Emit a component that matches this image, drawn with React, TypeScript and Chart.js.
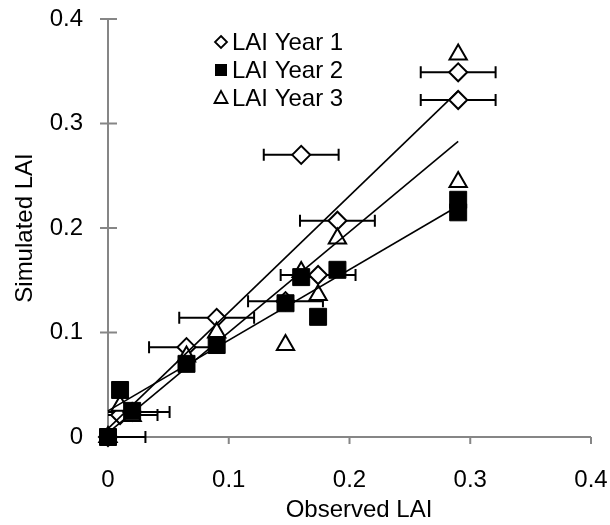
import React, { useEffect, useRef } from "react";
import { Chart, registerables } from "chart.js";

Chart.register(...registerables);

// Observed LAI (x) values shared by all three years
const observedX = [0, 0.01, 0.02, 0.065, 0.09, 0.147, 0.16, 0.174, 0.19, 0.29, 0.29];
// Simulated LAI per year
const year1Y = [0, 0.021, 0.024, 0.086, 0.114, 0.13, 0.27, 0.155, 0.207, 0.349, 0.3225];
const year2Y = [0, 0.045, 0.025, 0.07, 0.088, 0.128, 0.153, 0.115, 0.16, 0.227, 0.215];
const year3Y = [0, 0.03, 0.02, 0.077, 0.1, 0.088, 0.158, 0.136, 0.19, 0.366, 0.244];
// horizontal error (±) on Year 1 observations
const year1ErrX = [0.031, 0.031, 0.031, 0.031, 0.031, 0.031, 0.031, 0.031, 0.031, 0.031, 0.031];
// linear trend lines (endpoints)
const trendX = [0, 0.29];
const trend1Y = [0.008, 0.331];
const trend2Y = [0.025, 0.221];
const trend3Y = [0.004, 0.283];
// axis ticks
const tickValues = [0, 0.1, 0.2, 0.3, 0.4];
const seriesNames = ["LAI Year 1", "LAI Year 2", "LAI Year 3"];
const xTitle = "Observed LAI";
const yTitle = "Simulated LAI";

const FONT = "'Liberation Sans', Arial, sans-serif";
const AXIS_COLOR = "#868686";

const pts = (xs: number[], ys: number[]) => xs.map((x, i) => ({ x, y: ys[i] }));

const axesPlugin = {
  id: "customAxes",
  beforeDatasetsDraw(chart: any) {
    const { ctx, chartArea, scales } = chart;
    const xs = scales.x;
    const ys = scales.y;
    ctx.save();
    ctx.strokeStyle = AXIS_COLOR;
    ctx.lineWidth = 2;
    ctx.beginPath();
    ctx.moveTo(chartArea.left, chartArea.top);
    ctx.lineTo(chartArea.left, chartArea.bottom);
    ctx.lineTo(chartArea.right, chartArea.bottom);
    ctx.stroke();
    ctx.beginPath();
    tickValues.forEach((v) => {
      const px = xs.getPixelForValue(v);
      ctx.moveTo(px, chartArea.bottom);
      ctx.lineTo(px, chartArea.bottom + 7);
      const py = ys.getPixelForValue(v);
      ctx.moveTo(chartArea.left - 8, py);
      ctx.lineTo(chartArea.left + 9, py);
    });
    ctx.stroke();
    ctx.restore();

    // x axis title
    ctx.save();
    ctx.font = `24px ${FONT}`;
    ctx.fillStyle = "#000";
    ctx.textAlign = "center";
    ctx.textBaseline = "middle";
    ctx.fillText(xTitle, 359, 510);
    ctx.restore();

    // error bars for Year 1 (drawn under the markers)
    ctx.save();
    ctx.beginPath();
    ctx.rect(chartArea.left, chartArea.top - 10, chartArea.right - chartArea.left, chartArea.bottom - chartArea.top + 20);
    ctx.clip();
    ctx.strokeStyle = "#000";
    ctx.lineWidth = 2;
    ctx.beginPath();
    observedX.forEach((x, i) => {
      const e = year1ErrX[i];
      const x0 = xs.getPixelForValue(x - e);
      const x1 = xs.getPixelForValue(x + e);
      const py = ys.getPixelForValue(year1Y[i]);
      ctx.moveTo(x0, py);
      ctx.lineTo(x1, py);
      ctx.moveTo(x0, py - 6);
      ctx.lineTo(x0, py + 6);
      ctx.moveTo(x1, py - 6);
      ctx.lineTo(x1, py + 6);
    });
    ctx.stroke();
    ctx.restore();
  },
  afterDraw(chart: any) {
    const { ctx } = chart;
    ctx.save();
    const mx = 221;
    const tx = 232;
    const rows = [42, 70, 98];
    ctx.font = `24px ${FONT}`;
    ctx.fillStyle = "#000";
    ctx.textBaseline = "middle";
    ctx.textAlign = "left";
    seriesNames.forEach((n, i) => ctx.fillText(n, tx, rows[i] + 1));
    ctx.strokeStyle = "#000";
    ctx.lineWidth = 1.8;
    // diamond
    let y = rows[0];
    ctx.beginPath();
    ctx.moveTo(mx, y - 6);
    ctx.lineTo(mx + 6, y);
    ctx.lineTo(mx, y + 6);
    ctx.lineTo(mx - 6, y);
    ctx.closePath();
    ctx.fillStyle = "#fff";
    ctx.fill();
    ctx.stroke();
    // square
    y = rows[1];
    ctx.fillStyle = "#000";
    ctx.fillRect(mx - 6, y - 6, 12, 12);
    // triangle
    y = rows[2];
    ctx.beginPath();
    ctx.moveTo(mx, y - 7);
    ctx.lineTo(mx + 6.5, y + 5);
    ctx.lineTo(mx - 6.5, y + 5);
    ctx.closePath();
    ctx.fillStyle = "#fff";
    ctx.fill();
    ctx.stroke();
    ctx.restore();
  },
};

export default function App() {
  const ref = useRef<HTMLCanvasElement | null>(null);
  useEffect(() => {
    if (!ref.current) return;
    const trendStyle = {
      showLine: true,
      borderColor: "#000",
      borderWidth: 1.6,
      pointRadius: 0,
      fill: false,
      clip: false,
    };
    const chart = new Chart(ref.current, {
      type: "scatter",
      data: {
        datasets: [
          {
            label: seriesNames[2],
            data: pts(observedX, year3Y),
            pointStyle: "triangle",
            pointRadius: 10,
            pointBorderWidth: 2,
            pointBackgroundColor: "#fff",
            pointBorderColor: "#000",
            order: 2,
            clip: false,
          },
          {
            label: seriesNames[1],
            data: pts(observedX, year2Y),
            pointStyle: "rect",
            pointRadius: 12,
            pointBorderWidth: 1,
            pointBackgroundColor: "#000",
            pointBorderColor: "#000",
            order: 1,
            clip: false,
          },
          {
            label: seriesNames[0],
            data: pts(observedX, year1Y),
            pointStyle: "rectRot",
            pointRadius: 9,
            pointBorderWidth: 2,
            pointBackgroundColor: "#fff",
            pointBorderColor: "#000",
            order: 3,
            clip: false,
          },
          { label: "t1", data: pts(trendX, trend1Y), ...trendStyle, order: 0 },
          { label: "t2", data: pts(trendX, trend2Y), ...trendStyle, order: 0 },
          { label: "t3", data: pts(trendX, trend3Y), ...trendStyle, order: 0 },
        ] as any,
      },
      options: {
        animation: false,
        responsive: false,
        maintainAspectRatio: false,
        layout: { padding: { top: 19, right: 19, left: 0, bottom: 0 } },
        plugins: { legend: { display: false }, tooltip: { enabled: false } },
        scales: {
          x: {
            type: "linear",
            min: 0,
            max: 0.4,
            afterFit: (s: any) => {
              s.height = 88;
              s.paddingLeft = 0;
              s.paddingRight = 0;
            },
            afterBuildTicks: (s: any) => {
              s.ticks = tickValues.map((v) => ({ value: v }));
            },
            grid: { display: false, drawTicks: false },
            border: { display: false },
            ticks: {
              color: "#000",
              font: { family: FONT, size: 24 },
              padding: 29,
              callback: (v: any) => String(v),
            },
          },
          y: {
            type: "linear",
            min: 0,
            max: 0.4,
            afterFit: (s: any) => {
              s.width = 108;
              s.paddingTop = 0;
              s.paddingBottom = 0;
            },
            afterBuildTicks: (s: any) => {
              s.ticks = tickValues.map((v) => ({ value: v }));
            },
            grid: { display: false, drawTicks: false },
            border: { display: false },
            ticks: {
              color: "#000",
              font: { family: FONT, size: 24 },
              padding: 25,
              callback: (v: any) => String(v),
            },
            title: {
              display: true,
              text: yTitle,
              color: "#000",
              font: { family: FONT, size: 24 },
              padding: { top: 10.5, bottom: 0 },
            },
          },
        },
      },
      plugins: [axesPlugin],
    });
    return () => chart.destroy();
  }, []);
  return (
    <div style={{ position: "fixed", left: 0, top: 0, width: 610, height: 525, background: "#fff" }}>
      <canvas ref={ref} width={610} height={525} style={{ width: 610, height: 525 }} />
    </div>
  );
}
